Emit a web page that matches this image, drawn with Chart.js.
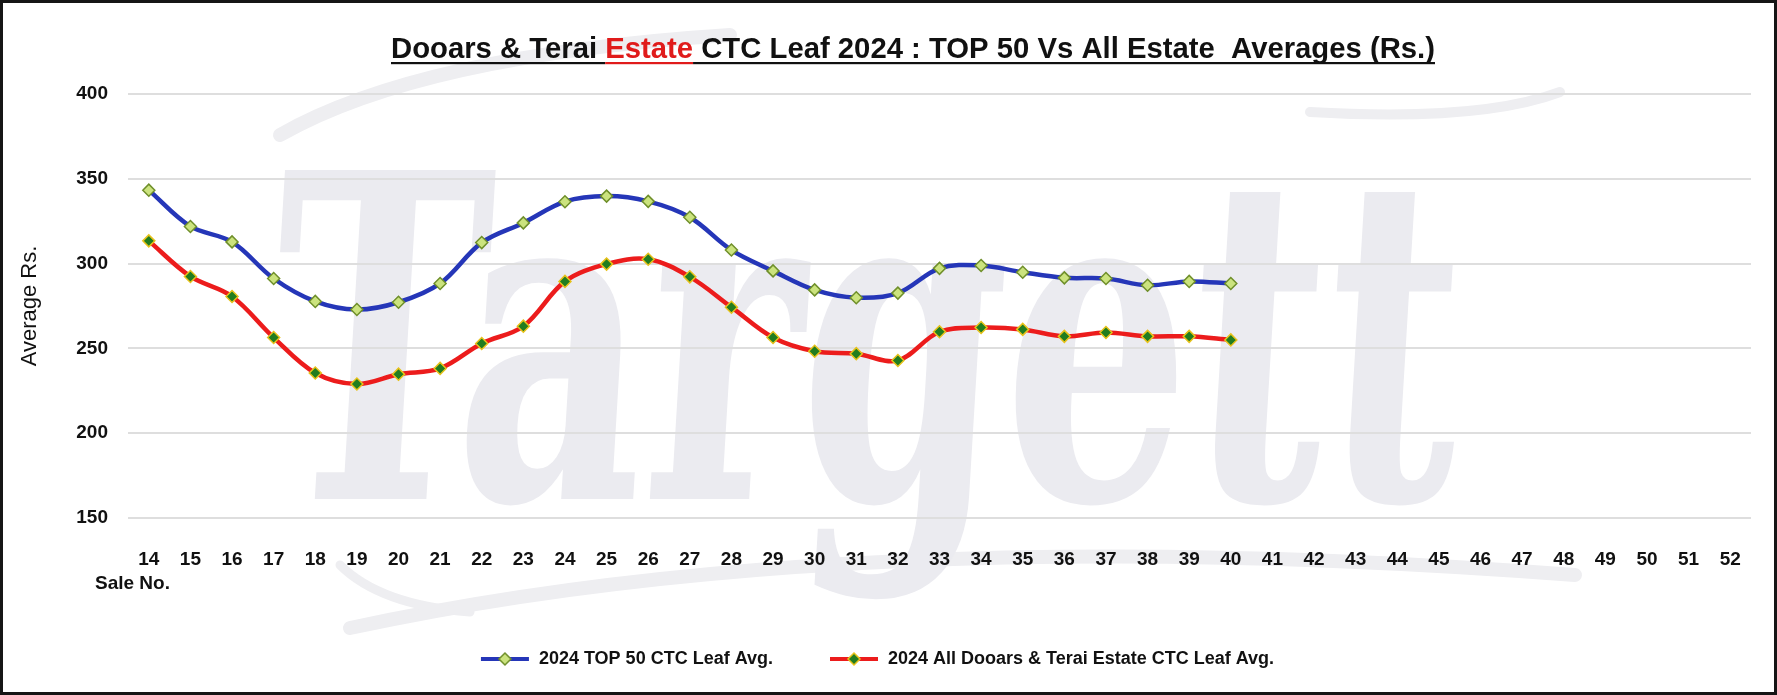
<!DOCTYPE html>
<html>
<head>
<meta charset="utf-8">
<script src="https://cdn.jsdelivr.net/npm/chart.js@4.4.1/dist/chart.umd.min.js"></script>
<style>
  html, body { margin: 0; padding: 0; background: #ffffff; }
  #wrap { width: 1777px; height: 695px; position: relative; }
</style>
</head>
<body>
<div id="wrap"><canvas id="c" width="1777" height="695"></canvas></div>
<script>
// ---- Data ----
const saleNos = ['14','15','16','17','18','19','20','21','22','23','24','25','26','27','28','29','30','31','32','33','34','35','36','37','38','39','40','41','42','43','44','45','46','47','48','49','50','51','52'];
const top50Avg = [343.3, 321.9, 312.8, 291.2, 277.7, 272.9, 277.2, 288.3, 312.4, 324.0, 336.5, 339.8, 336.7, 327.3, 308.0, 295.7, 284.5, 279.9, 282.6, 297.2, 298.9, 294.9, 291.6, 291.2, 287.2, 289.5, 288.3];
const allEstateAvg = [313.4, 292.4, 280.6, 256.4, 235.5, 229.0, 234.8, 238.2, 252.9, 263.1, 289.5, 299.7, 302.6, 292.2, 274.3, 256.4, 248.3, 246.9, 242.9, 259.8, 262.3, 261.2, 257.1, 259.4, 257.1, 257.1, 255.0];
const seriesNames = ['2024 TOP 50 CTC Leaf Avg.', '2024 All Dooars & Terai Estate CTC Leaf Avg.'];
const titleParts = ['Dooars & Terai ', 'Estate', ' CTC Leaf 2024 : TOP 50 Vs All Estate  Averages (Rs.)'];
const yAxisTitle = 'Average Rs.';
const xAxisTitle = 'Sale No.';
const watermarkText = 'Targett';

const FONT = "'Liberation Sans', Arial, sans-serif";

function legendIcon(lineColor, fill, stroke) {
  const cv = document.createElement('canvas');
  cv.width = 50; cv.height = 16;
  const g = cv.getContext('2d');
  g.strokeStyle = lineColor; g.lineWidth = 4;
  g.beginPath(); g.moveTo(1, 8); g.lineTo(49, 8); g.stroke();
  g.beginPath(); g.moveTo(25, 2); g.lineTo(31, 8); g.lineTo(25, 14); g.lineTo(19, 8); g.closePath();
  g.fillStyle = fill; g.fill(); g.strokeStyle = stroke; g.lineWidth = 1.5; g.stroke();
  return cv;
}

const decorPlugin = {
  id: 'decor',
  beforeDraw(chart) {
    const ctx = chart.ctx;
    ctx.save();
    ctx.fillStyle = '#ffffff';
    ctx.fillRect(0, 0, chart.width, chart.height);
    // faint swooshes
    ctx.strokeStyle = 'rgb(238,238,241)';
    ctx.lineCap = 'round';
    ctx.lineWidth = 14;
    ctx.beginPath(); ctx.moveTo(280, 135); ctx.quadraticCurveTo(420, 55, 730, 35); ctx.stroke();
    ctx.lineWidth = 10;
    ctx.beginPath(); ctx.moveTo(1310, 112); ctx.quadraticCurveTo(1480, 122, 1560, 92); ctx.stroke();
    ctx.lineWidth = 14;
    ctx.beginPath(); ctx.moveTo(350, 628); ctx.quadraticCurveTo(850, 520, 1575, 575); ctx.stroke();
    ctx.lineWidth = 9;
    ctx.beginPath(); ctx.moveTo(340, 565); ctx.quadraticCurveTo(380, 605, 470, 612); ctx.stroke();
    // watermark text
    const fs = 360;
    ctx.font = "bold " + fs + "px 'DejaVu Serif', 'Liberation Serif', serif";
    const m = ctx.measureText(watermarkText);
    const sx = 1190 / m.width;
    const sy = 329 / (0.729 * fs);
    ctx.translate(262, 499);
    ctx.transform(1, 0, -0.06, 1, 0, 0);
    ctx.scale(sx, sy);
    ctx.fillStyle = 'rgb(235,235,240)';
    ctx.textBaseline = 'alphabetic';
    ctx.fillText(watermarkText, 0, 0);
    ctx.restore();
  },
  afterDraw(chart) {
    const ctx = chart.ctx;
    ctx.save();
    // title
    ctx.font = "bold 30px " + FONT;
    ctx.textBaseline = 'alphabetic';
    const widths = titleParts.map(t => ctx.measureText(t).width);
    const total = widths.reduce((a, b) => a + b, 0);
    const targetW = 1044;
    const sx = targetW / total;
    const x0 = 913 - targetW / 2;
    ctx.translate(x0, 58);
    ctx.scale(sx, 1);
    let x = 0;
    const colors = ['#111111', '#e01b1b', '#111111'];
    titleParts.forEach((t, i) => {
      ctx.fillStyle = colors[i];
      ctx.fillText(t, x, 0);
      ctx.fillRect(x, 4, widths[i], 2.2);
      x += widths[i];
    });
    ctx.restore();

    ctx.save();
    ctx.font = "bold 19px " + FONT;
    ctx.fillStyle = '#111111';
    ctx.textBaseline = 'middle';
    ctx.textAlign = 'left';
    ctx.fillText(xAxisTitle, 95, 584);
    // outer frame
    ctx.strokeStyle = '#151515';
    ctx.lineWidth = 3;
    ctx.strokeRect(1.5, 1.5, chart.width - 3, chart.height - 3);
    ctx.restore();
  }
};

const ctx = document.getElementById('c').getContext('2d');
const chart = new Chart(ctx, {
  type: 'line',
  data: {
    labels: saleNos,
    datasets: [
      {
        label: seriesNames[0],
        data: top50Avg,
        borderColor: '#2536b8',
        borderWidth: 4.5,
        tension: 0.35,
        pointStyle: 'rectRot',
        pointRadius: 6,
        pointBackgroundColor: '#cbe37e',
        pointBorderColor: '#6f8f2a',
        pointBorderWidth: 1.5,
        fill: false
      },
      {
        label: seriesNames[1],
        data: allEstateAvg,
        borderColor: '#ec1c1c',
        borderWidth: 4.5,
        tension: 0.35,
        pointStyle: 'rectRot',
        pointRadius: 6,
        pointBackgroundColor: '#217d1f',
        pointBorderColor: '#e7c21a',
        pointBorderWidth: 1.5,
        fill: false
      }
    ]
  },
  options: {
    responsive: false,
    animation: false,
    devicePixelRatio: 1,
    layout: { padding: { left: 3, right: 26, top: 94, bottom: 17 } },
    plugins: {
      legend: {
        display: true,
        position: 'bottom',
        labels: {
          usePointStyle: true,
          pointStyleWidth: 50,
          boxHeight: 16,
          padding: 56,
          color: '#111111',
          font: { family: FONT, size: 18, weight: 'bold' },
          generateLabels(chart) {
            const icons = [legendIcon('#2536b8', '#cbe37e', '#6f8f2a'), legendIcon('#ec1c1c', '#217d1f', '#e7c21a')];
            return chart.data.datasets.map((ds, i) => ({
              text: ds.label,
              pointStyle: icons[i],
              fillStyle: ds.borderColor,
              strokeStyle: ds.borderColor,
              lineWidth: 0,
              hidden: false,
              datasetIndex: i,
              fontColor: '#111111'
            }));
          }
        }
      },
      title: { display: false },
      tooltip: { enabled: false }
    },
    scales: {
      x: {
        offset: true,
        grid: { display: false, drawTicks: false },
        border: { display: false },
        ticks: {
          padding: 30,
          autoSkip: false,
          maxRotation: 0,
          color: '#111111',
          font: { family: FONT, size: 19, weight: 'bold' }
        },
        afterFit(scale) { scale.height = 76; }
      },
      y: {
        min: 150,
        max: 400,
        grid: { color: '#dedede', lineWidth: 2, drawTicks: false },
        border: { display: false },
        ticks: {
          stepSize: 50,
          padding: 20,
          color: '#111111',
          font: { family: FONT, size: 19, weight: 'bold' }
        },
        title: {
          display: true,
          text: yAxisTitle,
          color: '#111111',
          padding: { top: 14, bottom: 0 },
          font: { family: FONT, size: 22 }
        },
        afterFit(scale) { scale.width = 125; }
      }
    }
  },
  plugins: [decorPlugin]
});
</script>
</body>
</html>
